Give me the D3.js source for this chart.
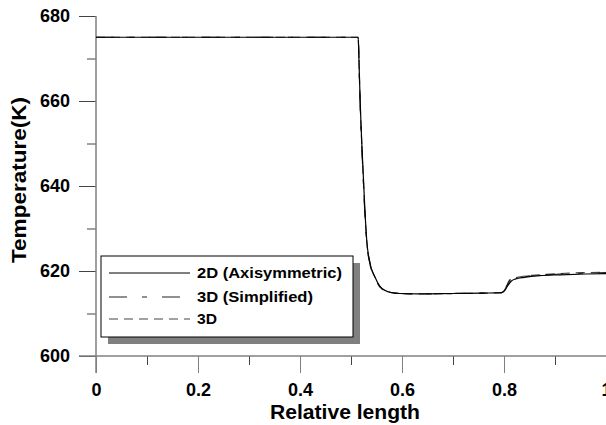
<!DOCTYPE html>
<html>
<head>
<meta charset="utf-8">
<script src="https://cdn.jsdelivr.net/npm/d3@7"></script>
<style>
  body { margin: 0; background: #fff; }
  svg { display: block; font-family: "Liberation Sans", Arial, sans-serif; }
</style>
</head>
<body>
<svg id="chart"></svg>
<script>
// series: relative length vs temperature (K)
var len2D  = [0, 0.514, 0.5165, 0.518, 0.5235, 0.527, 0.531, 0.537, 0.547, 0.556, 0.567, 0.58, 0.596, 0.63, 0.7, 0.76, 0.795, 0.8, 0.806, 0.814, 0.822, 0.84, 0.87, 0.91, 0.96, 1.0];
var temp2D = [675, 675, 666, 660, 644, 635, 627, 622, 618.6, 616.5, 615.4, 614.9, 614.7, 614.6, 614.7, 614.8, 614.9, 615.2, 616.3, 617.6, 618.1, 618.5, 618.9, 619.1, 619.3, 619.4];

var len3DSimp  = [0, 0.514, 0.5165, 0.518, 0.5235, 0.527, 0.531, 0.537, 0.547, 0.556, 0.567, 0.58, 0.596, 0.63, 0.7, 0.76, 0.795, 0.8, 0.806, 0.812, 0.822, 0.84, 0.87, 0.91, 0.96, 1.0];
var temp3DSimp = [675, 675, 665, 659, 643, 634, 626.5, 621.7, 618.4, 616.4, 615.3, 614.9, 614.7, 614.6, 614.7, 614.8, 614.9, 615.3, 616.6, 617.9, 618.3, 618.7, 619.0, 619.3, 619.5, 619.6];

var len3D  = [0, 0.514, 0.5165, 0.518, 0.5235, 0.527, 0.531, 0.537, 0.547, 0.556, 0.567, 0.58, 0.596, 0.63, 0.7, 0.76, 0.795, 0.8, 0.806, 0.812, 0.822, 0.84, 0.87, 0.91, 0.96, 1.0];
var temp3D = [675, 675, 665.5, 659.5, 643.5, 634.5, 626.8, 621.9, 618.5, 616.4, 615.3, 614.9, 614.7, 614.6, 614.7, 614.8, 614.9, 615.3, 616.7, 618.0, 618.4, 618.8, 619.1, 619.4, 619.6, 619.7];

var seriesNames = ["2D (Axisymmetric)", "3D (Simplified)", "3D"];
var xTicks = [0, 0.2, 0.4, 0.6, 0.8, 1];
var yTicks = [600, 620, 640, 660, 680];

var width = 606, height = 425;
var margin = {left: 96, right: 0, top: 16, bottom: 69};

var svg = d3.select('#chart').attr("width", width).attr("height", height);

var x = d3.scaleLinear().domain([0, 1]).range([margin.left, width - margin.right]);
var y = d3.scaleLinear().domain([600, 680]).range([height - margin.bottom, margin.top]);

var axisGray = "#808080";

/*
  Axes
 */

// x minor ticks
svg.append("g")
  .attr("transform", "translate(0," + y(600) + ")")
  .call(d3.axisBottom(x).tickValues(d3.range(0.1, 1, 0.2)).tickSize(9).tickFormat(""))
  .call(function(g){ g.select(".domain").remove(); g.selectAll("line").attr("stroke", "#444"); });

// x major ticks
svg.append("g")
  .attr("transform", "translate(0," + y(600) + ")")
  .call(d3.axisBottom(x).tickValues(xTicks).tickSize(17).tickPadding(10).tickFormat(d3.format("")))
  .call(function(g){
    g.select(".domain").remove();
    g.selectAll("line").attr("stroke", axisGray);
    g.selectAll("text").attr("font-size", 18).attr("font-weight", "bold").attr("fill", "#000");
  });

// y minor ticks
svg.append("g")
  .attr("transform", "translate(" + x(0) + ",0)")
  .call(d3.axisLeft(y).tickValues([610, 630, 650, 670]).tickSize(9).tickFormat(""))
  .call(function(g){ g.select(".domain").remove(); g.selectAll("line").attr("stroke", "#444"); });

// y major ticks
svg.append("g")
  .attr("transform", "translate(" + x(0) + ",0)")
  .call(d3.axisLeft(y).tickValues(yTicks).tickSize(17).tickPadding(9).tickFormat(d3.format("")))
  .call(function(g){
    g.select(".domain").remove();
    g.selectAll("line").attr("stroke", "#444");
    g.selectAll("text").attr("font-size", 18).attr("font-weight", "bold").attr("fill", "#000");
  });

// axis lines
svg.append("line")
  .attr("x1", x(0) - 17).attr("x2", x(1))
  .attr("y1", y(600)).attr("y2", y(600))
  .attr("stroke", axisGray).attr("stroke-width", 1.5);
svg.append("line")
  .attr("x1", x(0)).attr("x2", x(0))
  .attr("y1", y(680)).attr("y2", y(600) + 17)
  .attr("stroke", axisGray).attr("stroke-width", 1.5);

// axis titles
svg.append("text")
  .attr("x", 345).attr("y", 419)
  .attr("text-anchor", "middle")
  .attr("font-size", 20).attr("font-weight", "bold")
  .attr("textLength", 150).attr("lengthAdjust", "spacingAndGlyphs")
  .text("Relative length");

svg.append("text")
  .attr("transform", "translate(26,180) rotate(-90)")
  .attr("text-anchor", "middle")
  .attr("font-size", 20).attr("font-weight", "bold")
  .attr("textLength", 166).attr("lengthAdjust", "spacingAndGlyphs")
  .text("Temperature(K)");

/*
  Lines
 */

var line = d3.line()
  .x(function(d){ return x(d[0]); })
  .y(function(d){ return y(d[1]); })
  .curve(d3.curveMonotoneX);

var styles = [
  {stroke: "#000", dash: null, width: 1.2},
  {stroke: "#222", dash: "18,15,5,15", width: 1.2},
  {stroke: "#444", dash: "9,6", width: 1.2}
];

var series = [
  d3.zip(len3D, temp3D),
  d3.zip(len3DSimp, temp3DSimp),
  d3.zip(len2D, temp2D)
];
var seriesStyle = [styles[2], styles[1], styles[0]];

series.forEach(function(s, i){
  svg.append("path")
    .attr("d", line(s))
    .attr("fill", "none")
    .attr("stroke", seriesStyle[i].stroke)
    .attr("stroke-width", seriesStyle[i].width)
    .attr("stroke-dasharray", seriesStyle[i].dash);
});

/*
  Legend
 */

var lg = {x: 101, y: 256, w: 252, h: 81};
svg.append("rect")
  .attr("x", lg.x + 7).attr("y", lg.y + 7)
  .attr("width", lg.w).attr("height", lg.h)
  .attr("fill", "#808080");
svg.append("rect")
  .attr("x", lg.x).attr("y", lg.y)
  .attr("width", lg.w).attr("height", lg.h)
  .attr("fill", "#fff").attr("stroke", "#000").attr("stroke-width", 1);

var rowY = [273, 297, 319];
var labelWidths = [145, 116, 20];
seriesNames.forEach(function(name, i){
  svg.append("line")
    .attr("x1", 109).attr("x2", 190)
    .attr("y1", rowY[i]).attr("y2", rowY[i])
    .attr("stroke", styles[i].stroke)
    .attr("stroke-width", 1.2)
    .attr("stroke-dasharray", styles[i].dash);
  svg.append("text")
    .attr("x", 197).attr("y", rowY[i])
    .attr("dy", "0.36em")
    .attr("font-size", 15).attr("font-weight", "bold")
    .attr("textLength", labelWidths[i]).attr("lengthAdjust", "spacingAndGlyphs")
    .text(name);
});
</script>
</body>
</html>
